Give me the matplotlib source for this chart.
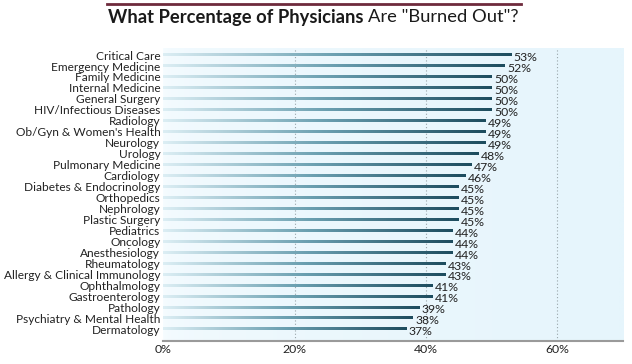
import matplotlib.pyplot as plt
import numpy as np
from matplotlib.colors import LinearSegmentedColormap

specialties = ["Critical Care", "Emergency Medicine", "Family Medicine", "Internal Medicine",
               "General Surgery", "HIV/Infectious Diseases", "Radiology", "Ob/Gyn & Women's Health",
               "Neurology", "Urology", "Pulmonary Medicine", "Cardiology", "Diabetes & Endocrinology",
               "Orthopedics", "Nephrology", "Plastic Surgery", "Pediatrics", "Oncology",
               "Anesthesiology", "Rheumatology", "Allergy & Clinical Immunology", "Ophthalmology",
               "Gastroenterology", "Pathology", "Psychiatry & Mental Health", "Dermatology"]
burnout = [53, 52, 50, 50, 50, 50, 49, 49, 49, 48, 47, 46, 45, 45, 45, 45, 44, 44, 44,
           43, 43, 41, 41, 39, 38, 37]
xticks = [0, 20, 40, 60]

plt.rcParams['font.family'] = ['Lato', 'DejaVu Sans']

fig = plt.figure(figsize=(6.32, 3.64), dpi=100)
ax = fig.add_axes([0.258, 0.063, 0.728, 0.805])

bar_cmap = LinearSegmentedColormap.from_list("bar", ["#dcEEF4", "#6a9fb0", "#1d4c5e"])
bg_cmap = LinearSegmentedColormap.from_list("bg", ["#f6fcff", "#e6f5fc"])

n = len(specialties)
ax.set_xlim(0, 70)
ax.set_ylim(n - 1 + 1.1, -0.64)

# background gradient
ax.imshow(np.linspace(0, 1, 256).reshape(1, -1) ** 0.4, cmap=bg_cmap, aspect='auto',
          extent=(0, 70, n + 0.1, -0.64), zorder=0)

grad = np.linspace(0, 1, 256).reshape(1, -1)
for i, v in enumerate(burnout):
    ax.imshow(grad, cmap=bar_cmap, aspect='auto', extent=(0, v, i + 0.13, i - 0.13), zorder=3)
    ax.text(v + 0.35, i + 0.25, f"{v}%", fontsize=8.8, va='center', ha='left', color='#222222', zorder=4)

for x in xticks[1:]:
    ax.axvline(x, color='#9aa5aa', lw=0.8, ls=(0, (1, 2)), zorder=1)

ax.set_yticks(range(n))
ax.set_yticklabels(specialties, fontsize=8.6, color='#222222')
ax.set_xticks(xticks)
ax.set_xticklabels([f"{x}%" for x in xticks], fontsize=8.8, color='#222222')
ax.tick_params(length=0, pad=2)
ax.tick_params(axis='x', pad=2)
for s in ['top', 'right', 'left']:
    ax.spines[s].set_visible(False)
ax.spines['bottom'].set_color('#9a9a9a')
ax.spines['bottom'].set_linewidth(1.5)

# title
fig.add_artist(plt.Line2D([0.17, 0.825], [0.988, 0.988], color='#6e2a3c', lw=2))
t1 = fig.text(0.5, 0.953, "What Percentage of Physicians ", fontsize=13.2, fontweight='bold',
              ha='right', va='center', color='#1a1a1a')
fig.canvas.draw()
bb = t1.get_window_extent()
t2 = fig.text(0.5, 0.953, 'Are "Burned Out"?', fontsize=13.2, ha='left', va='center', color='#1a1a1a')
bb2 = t2.get_window_extent()
total = bb.width + bb2.width
shift = (bb.width - total / 2) / fig.bbox.width
t1.set_x(0.5 + shift - 0.005)
t2.set_x(0.5 + shift - 0.005)

fig.savefig("out.png", dpi=100)
